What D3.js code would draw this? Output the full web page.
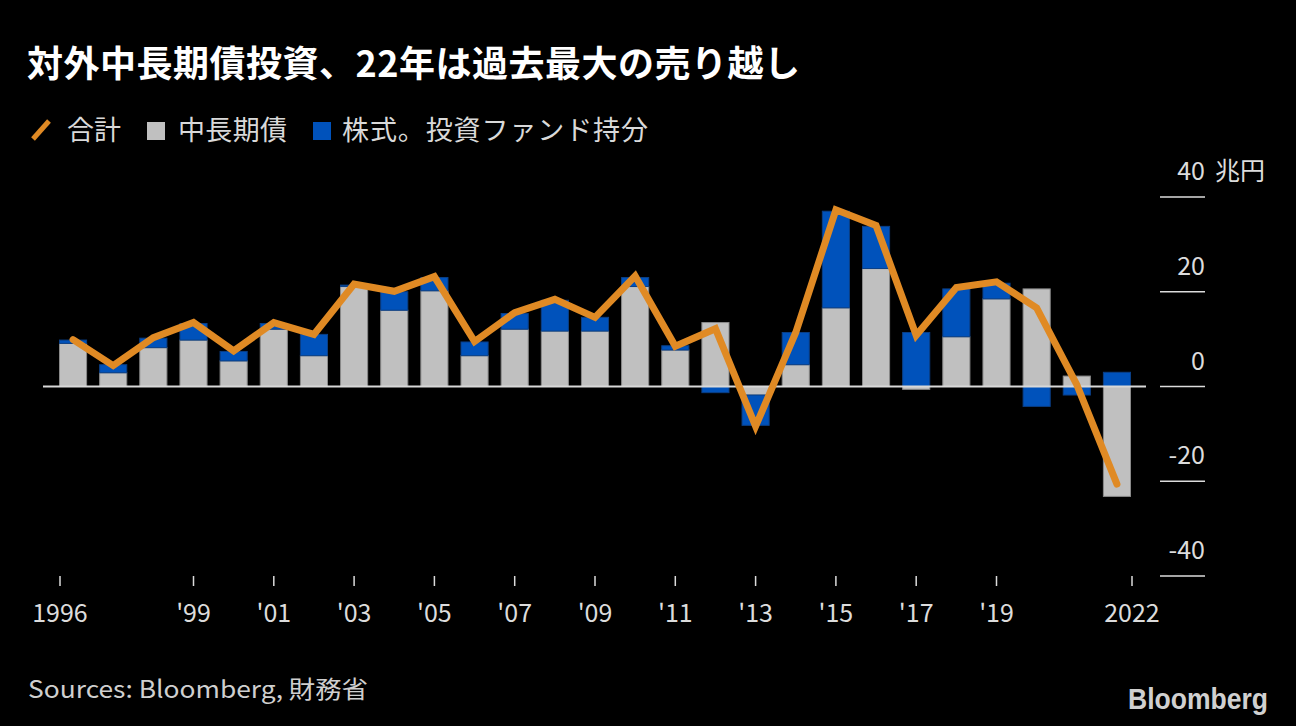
<!doctype html>
<html>
<head>
<meta charset="utf-8">
<style>
	body {
		margin: 0;
		background: #000;
	}
	svg text {
		font-family: "Noto Sans CJK JP", "Noto Sans", sans-serif;
	}
	.title {
		fill: #fff;
		font-size: 36px;
		font-weight: bold;
	}
	.legend text {
		fill: #d9d9d9;
		font-size: 27px;
	}
	.axis text {
		fill: #dcdcdc;
		font-size: 25px;
	}
	.axis line {
		stroke: #dcdcdc;
		stroke-width: 1.5px;
	}
	.src {
		fill: #cfcfcf;
		font-size: 24px;
	}
	.logo {
		fill: #d0d0d0;
		font-family: "Liberation Sans Narrow", "Liberation Sans", sans-serif !important;
		font-weight: bold;
		font-size: 29px;
	}
	.total {
		fill: none;
		stroke: #e08a24;
		stroke-width: 7px;
		stroke-linecap: round;
		stroke-linejoin: miter;
	}
</style>
<script src="https://cdn.jsdelivr.net/npm/d3@7"></script>
</head>
<body>
<div id="canvas"></div>
<script>
	// 年次データ (兆円)
	var years = d3.range(1996, 2023);
	var bonds = [9.1, 2.9, 8.2, 9.8, 5.4, 12.1, 6.5, 21.1, 16.1, 20.2,
		6.5, 12.1, 11.7, 11.7, 21.1, 7.7, 13.5, -1.8, 4.6, 16.6,
		24.9, -0.6, 10.5, 18.5, 20.6, 2.2, -23.2];
	var stocks = [0.7, 1.7, 2.0, 3.5, 2.0, 1.2, 4.5, 0.3, 3.9, 2.8,
		2.9, 3.3, 6.5, 2.9, 1.9, 0.9, -1.3, -6.4, 6.8, 20.4,
		8.9, 11.4, 10.1, 3.3, -4.2, -1.8, 3.0];
	var totals = [9.9, 4.4, 10.3, 13.5, 7.5, 13.5, 11.0, 21.6, 20.1, 23.2,
		9.5, 15.6, 18.4, 14.6, 23.3, 8.5, 12.2, -8.4, 11.4, 37.3,
		34.0, 10.8, 20.9, 22.1, 16.6, 0.4, -20.6];
	var yTicks = [40, 20, 0, -20, -40];
	var xTickYears = [1996, 1999, 2001, 2003, 2005, 2007, 2009, 2011, 2013, 2015, 2017, 2019, 2022];
	var legendItems = ["合計", "中長期債", "株式。投資ファンド持分"];

	var width = 1296,
		height = 726;

	var svg = d3.select("#canvas")
		.append("svg")
		.attr("width", width)
		.attr("height", height);

	svg.append("rect")
		.attr("width", width)
		.attr("height", height)
		.attr("fill", "#000");

	svg.append("text")
		.attr("class", "title")
		.attr("x", 27)
		.attr("y", 77)
		.attr("textLength", 773)
		.attr("lengthAdjust", "spacing")
		.text("対外中長期債投資、22年は過去最大の売り越し");

	// legend
	var legend = svg.append("g").attr("class", "legend");
	legend.append("line")
		.attr("x1", 33).attr("y1", 139)
		.attr("x2", 49).attr("y2", 121)
		.attr("stroke", "#e08a24")
		.attr("stroke-width", 5);
	legend.append("text").attr("x", 67).attr("y", 140)
		.attr("textLength", 54).attr("lengthAdjust", "spacing")
		.text(legendItems[0]);
	legend.append("rect")
		.attr("x", 147).attr("y", 122).attr("width", 18).attr("height", 18)
		.attr("fill", "#c0c0c0");
	legend.append("text").attr("x", 178).attr("y", 140)
		.attr("textLength", 109).attr("lengthAdjust", "spacing")
		.text(legendItems[1]);
	legend.append("rect")
		.attr("x", 313).attr("y", 122).attr("width", 18).attr("height", 18)
		.attr("fill", "#0052bb");
	legend.append("text").attr("x", 342).attr("y", 140)
		.attr("textLength", 306).attr("lengthAdjust", "spacing")
		.text(legendItems[2]);

	var x = d3.scaleBand()
		.domain(years)
		.range([59, 1131])
		.paddingInner(0.3)
		.paddingOuter(0);

	var y = d3.scaleLinear()
		.domain([-40, 40])
		.range([576, 197]);

	var rows = years.map((yr, i) => ({year: yr, bonds: bonds[i], stocks: stocks[i]}));

	var stack = d3.stack()
		.keys(["bonds", "stocks"])
		.offset(d3.stackOffsetDiverging);

	var series = stack(rows);
	var colors = {bonds: "#c0c0c0", stocks: "#0052bb"};
	var strokes = {bonds: "#8a8a8a", stocks: "#0a3f86"};

	// y axis on the right
	var yAxis = svg.append("g").attr("class", "axis");
	yAxis.selectAll("line")
		.data(yTicks).enter()
		.append("line")
		.attr("x1", 1160).attr("x2", 1205)
		.attr("y1", d => y(d)).attr("y2", d => y(d));
	yAxis.selectAll("text.tick")
		.data(yTicks).enter()
		.append("text")
		.attr("class", "tick")
		.attr("x", 1205)
		.attr("y", d => y(d) - 17)
		.attr("text-anchor", "end")
		.text(d => d === 0 ? "0" : (d < 0 ? "-" + Math.abs(d) : d));
	yAxis.append("text")
		.attr("x", 1215)
		.attr("y", y(40) - 17)
		.text("兆円");

	// bars
	svg.append("g")
		.selectAll("g")
		.data(series).enter()
		.append("g")
		.attr("fill", d => colors[d.key])
		.attr("stroke", d => strokes[d.key])
		.attr("stroke-width", 1)
		.selectAll("rect")
		.data(d => d).enter()
		.append("rect")
		.attr("x", d => x(d.data.year) + 0.5)
		.attr("width", x.bandwidth() - 1)
		.attr("y", d => y(Math.max(d[0], d[1])))
		.attr("height", d => Math.abs(y(d[0]) - y(d[1])));

	// zero line
	svg.append("line")
		.attr("x1", 43).attr("x2", 1146)
		.attr("y1", y(0)).attr("y2", y(0))
		.attr("stroke", "#d8d8d8")
		.attr("stroke-width", 2);

	// total line
	var line = d3.line()
		.x((d, i) => x(years[i]) + x.bandwidth() / 2)
		.y(d => y(d));

	svg.append("path")
		.datum(totals)
		.attr("class", "total")
		.attr("d", line);

	// x axis
	var tickX = function(yr) {
		if (yr === years[0]) return x.range()[0] + 1;
		if (yr === years[years.length - 1]) return x.range()[1] + 1;
		return x(yr) + x.bandwidth() / 2;
	};
	var xAxis = svg.append("g").attr("class", "axis");
	xAxis.selectAll("line")
		.data(xTickYears).enter()
		.append("line")
		.attr("x1", tickX).attr("x2", tickX)
		.attr("y1", 576).attr("y2", 586);
	xAxis.selectAll("text")
		.data(xTickYears).enter()
		.append("text")
		.attr("x", tickX)
		.attr("y", 622)
		.attr("text-anchor", "middle")
		.text(d => (d === 1996 || d === 2022) ? d : "'" + String(d).slice(2));

	svg.append("text")
		.attr("class", "src")
		.attr("x", 28)
		.attr("y", 698)
		.attr("textLength", 340)
		.attr("lengthAdjust", "spacingAndGlyphs")
		.text("Sources: Bloomberg, 財務省");

	svg.append("text")
		.attr("class", "logo")
		.attr("x", 1128)
		.attr("y", 709)
		.attr("textLength", 140)
		.attr("lengthAdjust", "spacingAndGlyphs")
		.text("Bloomberg");
</script>
</body>
</html>
